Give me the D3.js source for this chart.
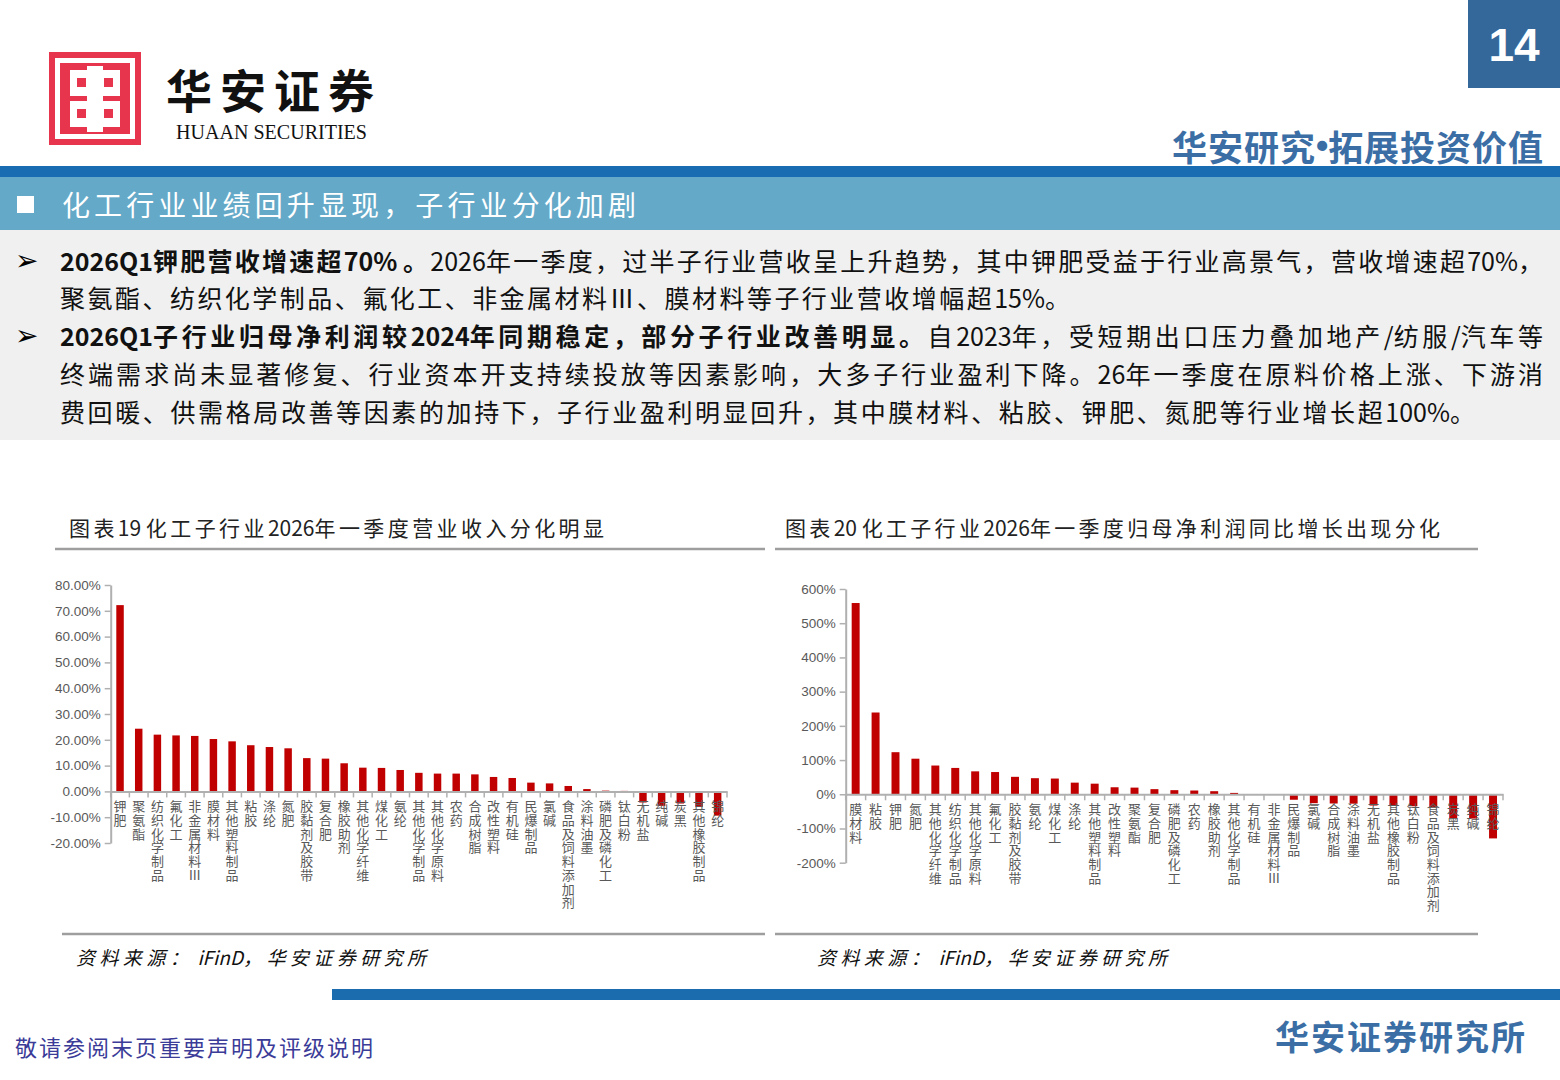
<!DOCTYPE html>
<html><head><meta charset="utf-8">
<script src="https://cdn.jsdelivr.net/npm/d3@7"></script>
<style>
html,body{margin:0;padding:0;background:#fff;}
svg{display:block;}
</style></head><body>
<svg id="page" width="1560" height="1080"></svg>
<script>
// ---------- DATA ----------
const revCategories = ["钾肥","聚氨酯","纺织化学制品","氟化工","非金属材料Ⅲ","膜材料","其他塑料制品","粘胶","涤纶","氮肥","胶黏剂及胶带","复合肥","橡胶助剂","其他化学纤维","煤化工","氨纶","其他化学制品","其他化学原料","农药","合成树脂","改性塑料","有机硅","民爆制品","氯碱","食品及饲料添加剂","涂料油墨","磷肥及磷化工","钛白粉","无机盐","纯碱","炭黑","其他橡胶制品","锦纶"];
const revValues = [72.2,24.3,22.0,21.7,21.5,20.3,19.4,17.9,17.2,16.7,12.9,12.7,10.9,9.2,9.1,8.3,7.2,6.9,6.9,6.6,5.6,5.2,3.4,3.1,2.1,0.9,0.3,0.2,-4.3,-5.6,-4.7,-6.0,-9.4];
const revTicks = [-20,-10,0,10,20,30,40,50,60,70,80];

const profitCategories = ["膜材料","粘胶","钾肥","氮肥","其他化学纤维","纺织化学制品","其他化学原料","氟化工","胶黏剂及胶带","氨纶","煤化工","涤纶","其他塑料制品","改性塑料","聚氨酯","复合肥","磷肥及磷化工","农药","橡胶助剂","其他化学制品","有机硅","非金属材料Ⅲ","民爆制品","氯碱","合成树脂","涂料油墨","无机盐","其他橡胶制品","钛白粉","食品及饲料添加剂","炭黑","纯碱","锦纶"];
const profitValues = [559,239,123,104,84,77,67,65,51,47,46,34,31,20.5,19.5,15,12,11,9,4,0.5,-0.5,-16,-26,-27,-27.5,-33,-34,-35,-38,-70,-71,-129];
const profitTicks = [-200,-100,0,100,200,300,400,500,600];

const pageNumber = "14";
const slogan = "华安研究•拓展投资价值";
const sectionTitle = "化工行业业绩回升显现，子行业分化加剧";
const chart1Title = "图表19  化工子行业2026年一季度营业收入分化明显";
const chart2Title = "图表20  化工子行业2026年一季度归母净利润同比增长出现分化";
const sourceText = "资料来源：  iFinD，华安证券研究所";
const footerLeft = "敬请参阅末页重要声明及评级说明";
const footerRight = "华安证券研究所";

// ---------- HELPERS ----------
const CJK = '"Noto Sans CJK SC","Noto Sans",sans-serif';
const svg = d3.select("#page");

function fillRuns(t, parts){
  parts.forEach(([s,b])=>{
    s.split(/([A-Za-z0-9%\/\.\-• ]+)/).filter(r=>r.length).forEach(r=>{
      const lat = /^[A-Za-z0-9%\/\.\-• ]+$/.test(r);
      t.append("tspan").attr("class", lat?"lat":"cjk").attr("font-weight", b?700:null).text(r);
    });
  });
}
function justify(t, target){
  const node = t.node();
  const w = node.getComputedTextLength();
  const cj = t.selectAll("tspan.cjk");
  let n = 0; cj.each(function(){ n += this.textContent.length; });
  const lastTs = t.selectAll("tspan").nodes().pop();
  if (lastTs && lastTs.getAttribute("class")==="cjk") n -= 1;
  if (n > 0) cj.style("letter-spacing", ((target - w)/n)+"px");
}
function runText(x, y, parts, attrs, target){
  const t = svg.append("text").attr("x",x).attr("y",y).attr("dominant-baseline","central");
  Object.entries(attrs).forEach(([k,v])=>t.attr(k,v));
  fillRuns(t, parts);
  if (target) justify(t, target);
  return t;
}

// ---------- PAGE ----------
// Logo
const logo = svg.append("g");
logo.append("rect").attr("x",49).attr("y",52).attr("width",92).attr("height",93).attr("fill","#e6354c");
logo.append("rect").attr("x",57.5).attr("y",60.5).attr("width",75).attr("height",76).attr("fill","none").attr("stroke","#fff").attr("stroke-width",5);
logo.append("rect").attr("x",70).attr("y",70).attr("width",50).attr("height",26).attr("fill","#fff");
logo.append("rect").attr("x",70).attr("y",101).attr("width",50).attr("height",26).attr("fill","#fff");
logo.append("rect").attr("x",87).attr("y",66).attr("width",16).attr("height",66).attr("fill","#fff");
[[77,78],[104,78],[77,109],[104,109]].forEach(([x,y])=>logo.append("rect").attr("x",x).attr("y",y).attr("width",9).attr("height",9).attr("fill","#e6354c"));
runText(166, 88, [["华安证券",true]], {"font-family":CJK,"font-size":46,"fill":"#111"}, 208);
svg.append("text").attr("x",176).attr("y",132).attr("dominant-baseline","central")
  .attr("font-family",'"Liberation Serif",serif').attr("font-size",20).attr("fill","#111")
  .attr("textLength",191).attr("lengthAdjust","spacingAndGlyphs").text("HUAAN SECURITIES");

// Page number box & slogan
svg.append("rect").attr("x",1468).attr("y",0).attr("width",92).attr("height",88).attr("fill","#35689a");
svg.append("text").attr("x",1514).attr("y",45).attr("text-anchor","middle").attr("dominant-baseline","central")
  .attr("font-family",'"Liberation Sans",Arial,sans-serif').attr("font-weight",700).attr("font-size",46).attr("fill","#fff").text(pageNumber);
{
  const t = svg.append("text").attr("x",1172).attr("y",145).attr("dominant-baseline","central")
    .attr("font-family",CJK).attr("font-weight",700).attr("font-size",35).attr("fill","#3b6ea5");
  const [a,b] = slogan.split("•");
  t.append("tspan").attr("class","cjk").text(a);
  t.append("tspan").attr("class","lat").attr("font-family",'"Liberation Sans",sans-serif').text("•");
  t.append("tspan").attr("class","cjk").text(b);
  justify(t, 371);
}

// Top bands
svg.append("rect").attr("x",0).attr("y",166).attr("width",1560).attr("height",11).attr("fill","#1a6cb2");
svg.append("rect").attr("x",0).attr("y",177).attr("width",1560).attr("height",53).attr("fill","#64a9c8");
svg.append("rect").attr("x",0).attr("y",230).attr("width",1560).attr("height",210).attr("fill","#f0f0f0");
svg.append("rect").attr("x",17).attr("y",196).attr("width",17).attr("height",17).attr("fill","#fff");
runText(62, 204, [[sectionTitle,false]], {"font-family":CJK,"font-size":28,"fill":"#fff"}, 574);

// Body text
const lines = [
  {y:260, w:1483, bullet:true, parts:[["2026Q1钾肥营收增速超70% 。",true],["2026年一季度，过半子行业营收呈上升趋势，其中钾肥受益于行业高景气，营收增速超70%，",false]]},
  {y:297, w:1010, bullet:false, parts:[["聚氨酯、纺织化学制品、氟化工、非金属材料Ⅲ、膜材料等子行业营收增幅超15%。",false]]},
  {y:335, w:1483, bullet:true, parts:[["2026Q1子行业归母净利润较2024年同期稳定，部分子行业改善明显。",true],["自2023年，受短期出口压力叠加地产/纺服/汽车等",false]]},
  {y:373, w:1483, bullet:false, parts:[["终端需求尚未显著修复、行业资本开支持续投放等因素影响，大多子行业盈利下降。26年一季度在原料价格上涨、下游消",false]]},
  {y:411, w:1415, bullet:false, parts:[["费回暖、供需格局改善等因素的加持下，子行业盈利明显回升，其中膜材料、粘胶、钾肥、氮肥等行业增长超100%。",false]]}
];
lines.forEach(l=>{
  if (l.bullet) svg.append("text").attr("x",15).attr("y",l.y).attr("dominant-baseline","central")
     .attr("font-family",'"DejaVu Sans",sans-serif').attr("font-size",28).attr("fill","#000").text("➢");
  runText(60, l.y, l.parts, {"font-family":CJK,"font-size":25,"fill":"#111"}, l.w);
});

// Chart titles & rules
[[69,chart1Title,535,55,765],[785,chart2Title,655,775,1478]].forEach(([x,txt,w,l0,l1])=>{
  runText(x, 527, [[txt,false]], {"font-family":CJK,"font-size":21,"fill":"#222"}, w);
  svg.append("line").attr("x1",l0).attr("x2",l1).attr("y1",549).attr("y2",549).attr("stroke","#9e9e9e").attr("stroke-width",2.5);
});
[[62,765,76],[775,1478,817]].forEach(([l0,l1,tx])=>{
  svg.append("line").attr("x1",l0).attr("x2",l1).attr("y1",934).attr("y2",934).attr("stroke","#9e9e9e").attr("stroke-width",2.5);
  runText(tx, 956, [[sourceText,false]], {"font-family":CJK,"font-style":"italic","font-size":19,"fill":"#111"}, 350);
});

// Footer
svg.append("rect").attr("x",332).attr("y",989).attr("width",1228).attr("height",11).attr("fill","#1b6cae");
runText(15, 1046, [[footerLeft,false]], {"font-family":CJK,"font-size":22,"fill":"#3b3b98"}, 358);
runText(1275, 1035, [[footerRight,true]], {"font-family":CJK,"font-size":34,"fill":"#3b6ea5"}, 250);

// ---------- CHARTS ----------
function drawChart(cats, vals, ticks, o){
  const g = svg.append("g");
  const x = d3.scaleBand().domain(cats).range([o.x0, o.x1]).paddingInner(0.6).paddingOuter(0.3);
  const y = d3.scaleLinear().domain([ticks[0], ticks[ticks.length-1]]).range([o.yBot, o.yTop]);
  const y0 = y(0);
  g.selectAll("rect.bar").data(cats).join("rect").attr("class","bar")
    .attr("x", d=>x(d)).attr("width", x.bandwidth())
    .attr("y", (d,i)=>Math.min(y(vals[i]), y0))
    .attr("height", (d,i)=>Math.abs(y(vals[i]) - y0))
    .attr("fill","#c00000");
  // y axis
  const ya = g.append("g").attr("transform",`translate(${o.x0},0)`)
    .call(d3.axisLeft(y).tickValues(ticks).tickFormat(o.fmt).tickSize(6).tickSizeOuter(0).tickPadding(4));
  ya.selectAll("text").attr("font-family",'"Liberation Sans",Arial,sans-serif').attr("font-size",13.5).attr("fill","#595959");
  // x axis
  const xa = g.append("g").attr("transform",`translate(0,${y0})`)
    .call(d3.axisBottom(x).tickSize(0).tickSizeOuter(0));
  const step = x.step();
  d3.range(cats.length+1).forEach(i=>{
    xa.append("line").attr("x1",o.x0+i*step).attr("x2",o.x0+i*step).attr("y1",0).attr("y2",6).attr("stroke","#b0b0b0").attr("stroke-width",1.5);
  });
  // vertical (stacked) category labels: one text per character
  xa.selectAll(".tick").each(function(d){
    const tk = d3.select(this);
    tk.select("text").remove();
    tk.selectAll("text.ch").data(Array.from(d)).join("text").attr("class","ch")
      .attr("x",0).attr("y",(c,i)=>20+i*13.7).attr("text-anchor","middle")
      .attr("font-family",CJK).attr("font-size",13).attr("fill","#595959").text(c=>c);
  });
  [ya,xa].forEach(a=>{
    a.selectAll(".domain").attr("stroke","#b0b0b0").attr("stroke-width",2);
    a.selectAll(".tick line").attr("stroke","#b0b0b0").attr("stroke-width",1.5);
  });
}
drawChart(revCategories, revValues, revTicks, {x0:110.7, x1:727, yTop:585, yBot:843, fmt:d=>d.toFixed(2)+"%"});
drawChart(profitCategories, profitValues, profitTicks, {x0:845.7, x1:1503, yTop:589, yBot:862.7, fmt:d=>d+"%"});
</script>
</body></html>
